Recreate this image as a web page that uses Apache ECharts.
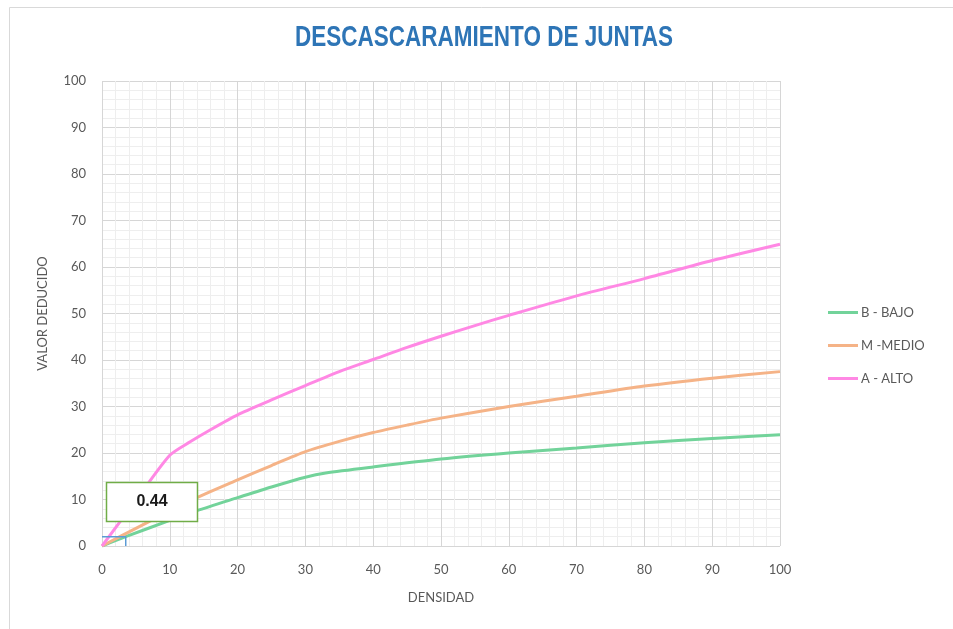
<!DOCTYPE html>
<html>
<head>
<meta charset="utf-8">
<script src="https://cdn.jsdelivr.net/npm/echarts@6/dist/echarts.min.js"></script>
<style>
  html, body { margin: 0; padding: 0; background: #ffffff; }
  #chart { width: 953px; height: 629px; }
</style>
</head>
<body>
<div id="chart"></div>
<script>
// Deduct value curves for joint spalling (density % -> deduct value)
const bajo = [[0,0],[3.5,2.0],[10,5.5],[14,7.6],[20,10.4],[25,12.7],[30,14.8],[33,15.7],[40,17.0],[50,18.7],[60,20.0],[70,21.1],[80,22.2],[90,23.1],[100,23.9]];
const medio = [[0,0],[5,3.8],[10,7.5],[14,10.4],[20,14.2],[25,17.3],[30,20.3],[35,22.5],[40,24.4],[45,26.0],[50,27.5],[60,30.0],[70,32.2],[80,34.4],[90,36.1],[100,37.5]];
const alto = [[0,0],[5,9.8],[10,19.5],[13,22.4],[16,25.0],[20,28.2],[25,31.4],[30,34.5],[35,37.5],[40,40.1],[45,42.7],[50,45.1],[55,47.4],[60,49.6],[70,53.8],[80,57.5],[90,61.4],[100,64.9]];
// Reading guide for the entered density
const guide = [[0,2.0],[3.5,2.0],[3.5,0]];
const resultLabel = '0.44';

const seriesNames = ['B - BAJO', 'M -MEDIO', 'A - ALTO'];
const seriesColors = ['#72d39a', '#f5b387', '#ff88e4'];

const chart = echarts.init(document.getElementById('chart'));
const labelFont = 'Lato, "Open Sans", sans-serif';
const axisText = { color: '#595959', fontSize: 13, fontFamily: labelFont };

function curve(i, data) {
  return {
    name: seriesNames[i], type: 'line', data: data, smooth: 0.25, showSymbol: false,
    lineStyle: { width: 3, color: seriesColors[i] }, itemStyle: { color: seriesColors[i] }
  };
}

chart.setOption({
  animation: false,
  backgroundColor: '#ffffff',
  legend: {
    orient: 'vertical', left: 823, top: 301, itemGap: 20,
    itemWidth: 30, itemHeight: 3, icon: 'rect',
    data: seriesNames,
    textStyle: { color: '#595959', fontSize: 13, fontFamily: labelFont, padding: [0,0,0,-2] }
  },
  grid: { left: 102, right: 173, top: 81, bottom: 83 },
  xAxis: {
    type: 'value', min: 0, max: 100, interval: 10,
    name: 'DENSIDAD', nameLocation: 'middle', nameGap: 45,
    nameTextStyle: axisText,
    axisLine: { show: false }, axisTick: { show: false },
    axisLabel: Object.assign({ margin: 17 }, axisText),
    splitLine: { show: true, lineStyle: { color: '#d6d6d6', width: 1 } },
    minorTick: { show: false, splitNumber: 5 },
    minorSplitLine: { show: true, lineStyle: { color: '#eeeeee', width: 1 } }
  },
  yAxis: {
    type: 'value', min: 0, max: 100, interval: 10,
    name: 'VALOR DEDUCIDO', nameLocation: 'middle', nameGap: 53, nameRotate: 90,
    nameTextStyle: axisText,
    axisLine: { show: false }, axisTick: { show: false },
    axisLabel: Object.assign({ margin: 16 }, axisText),
    splitLine: { show: true, lineStyle: { color: '#d6d6d6', width: 1 } },
    minorTick: { show: false, splitNumber: 5 },
    minorSplitLine: { show: true, lineStyle: { color: '#eeeeee', width: 1 } }
  },
  series: [
    curve(0, bajo),
    curve(1, medio),
    curve(2, alto),
    { name: 'guia', type: 'line', data: guide, showSymbol: false, lineStyle: { width: 1.5, color: '#5b9bd5' }, z: 5 }
  ],
  graphic: [
    // outer chart frame
    { type: 'rect', z: -1, silent: true,
      shape: { x: 9.5, y: 7.5, width: 960, height: 640 },
      style: { fill: 'none', stroke: '#d9d9d9', lineWidth: 1, lineDash: null } },
    // condensed bold title
    { type: 'text', x: 484, y: 38, scaleX: 0.75, originX: 0, z: 50,
      style: { text: 'DESCASCARAMIENTO DE JUNTAS', fill: '#2e75b6',
        font: 'bold 30px "Liberation Sans", Arial, sans-serif',
        textAlign: 'center', textVerticalAlign: 'middle' } },
    // result callout
    { type: 'rect', z: 100,
      shape: { x: 106.5, y: 482.5, width: 91, height: 39 },
      style: { fill: '#ffffff', stroke: '#70ad47', lineWidth: 1.5, lineDash: null } },
    { type: 'text', z: 101, x: 152, y: 502,
      style: { text: resultLabel, fill: '#1a1a1a', font: 'bold 16px "Liberation Sans", Arial, sans-serif',
        textAlign: 'center', textVerticalAlign: 'middle' } }
  ]
});
</script>
</body>
</html>
